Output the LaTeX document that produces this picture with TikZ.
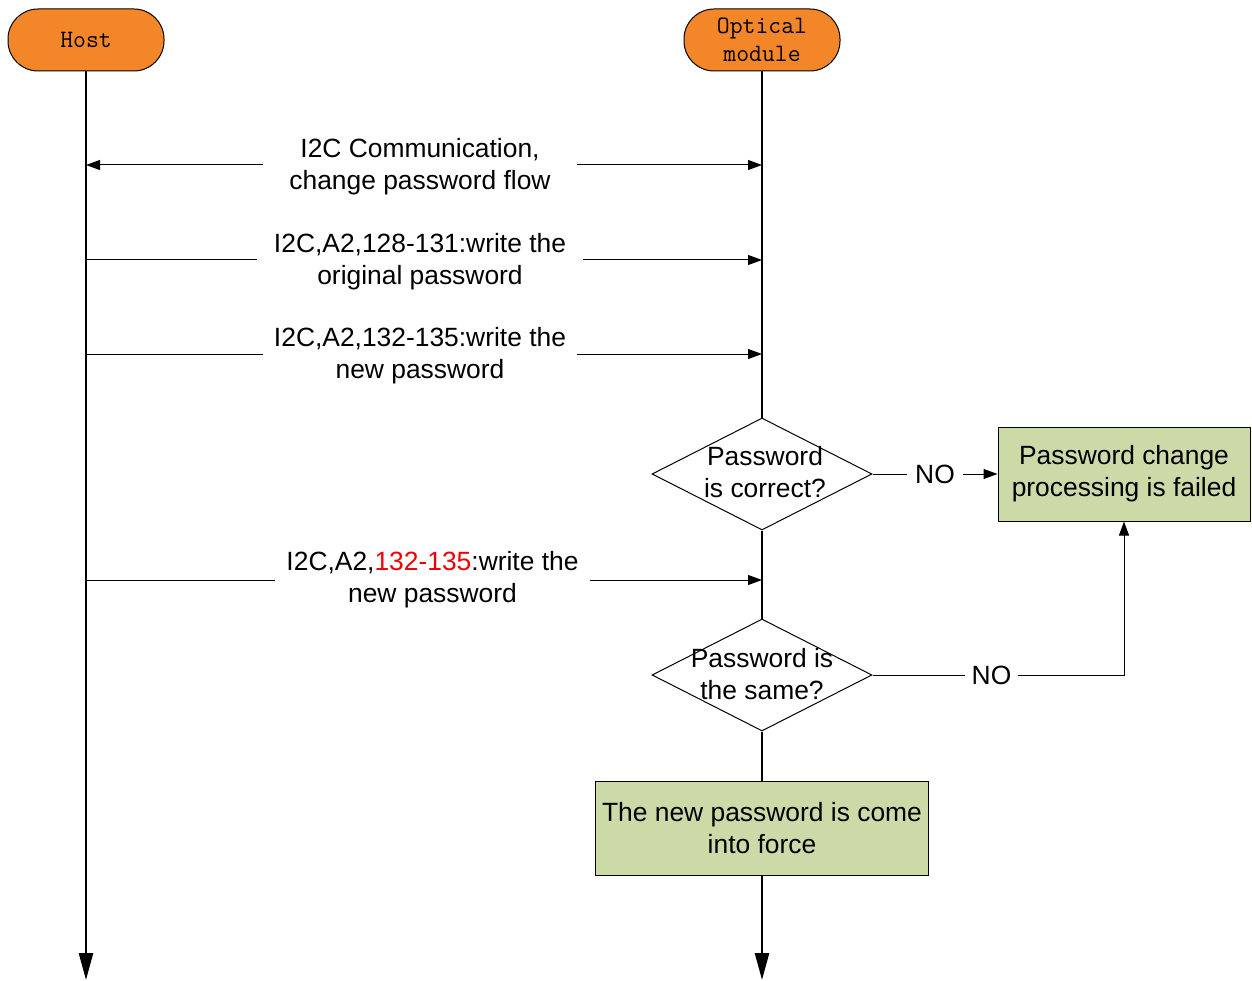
\documentclass[tikz,border=0pt]{standalone}
\usepackage{fontspec}
\setmainfont{Liberation Sans}
\usetikzlibrary{arrows.meta,shapes.geometric}
\definecolor{hdr}{RGB}{242,134,40}
\definecolor{boxg}{RGB}{204,218,168}
\definecolor{redtxt}{RGB}{240,0,0}
\tikzset{
  header/.style={draw=black,line width=1pt,fill=hdr,rounded corners=30pt,minimum width=156pt,minimum height=62pt,inner sep=0pt,align=center,font=\ttfamily\fontsize{25}{28}\selectfont},
  life/.style={line width=2.6pt,-{Triangle[length=27pt,width=14pt]}},
  lifeseg/.style={line width=2.6pt},
  msg/.style={inner sep=0pt,align=center,font=\fontsize{26.4}{32}\selectfont},
  conn/.style={line width=1pt},
  tip/.style={-{Triangle[length=14pt,width=10pt]}},
  decision/.style={draw=black,line width=1pt,fill=white,diamond,minimum width=220pt,minimum height=112pt,inner sep=0pt},
  result/.style={draw=black,line width=1pt,fill=boxg,inner sep=0pt,align=center,font=\fontsize{26.4}{32}\selectfont}
}
\begin{document}
\begin{tikzpicture}[x=1pt,y=-1pt]
\useasboundingbox (0,0) rectangle (1252,981);
% headers
\node[header] (host) at (86,40) {Host};
\node[header] (opt) at (762,40) {Optical\\module};
% lifeline ends
\coordinate (hostend) at (86,980);
\coordinate (optend) at (762,980);
% decisions and results
\node[decision] (d1) at (762,474) {};
\node[msg] (d1t) at (765,472) {Password\\is correct?};
\node[decision] (d2) at (762,675) {};
\node[msg] (d2t) at (762,674) {Password is\\the same?};
\node[result,minimum width=252pt,minimum height=94pt] (fail) at (1124,474) {Password change\\processing is failed};
\node[result,minimum width=333pt,minimum height=94pt] (ok) at (762,828) {The new password is come\\into force};
% lifelines
\draw[life] (host.south) -- (hostend);
\draw[lifeseg] (opt.south) -- (d1.north);
\draw[lifeseg] (d1.south) -- (d2.north);
\draw[lifeseg] (d2.south) -- (ok.north);
\draw[life] (ok.south) -- (optend);
% messages
\coordinate (h1) at (86,165); \coordinate (o1) at (762,165);
\node[msg,minimum width=314pt] (m1) at (420,166.5) {I2C Communication,\\change password flow};
\draw[conn,tip] (m1.west |- h1) -- (h1);
\draw[conn,tip] (m1.east |- o1) -- (o1);
\coordinate (h2) at (86,260); \coordinate (o2) at (762,260);
\node[msg,minimum width=326pt] (m2) at (420,261.5) {I2C,A2,128-131:write the\\original password};
\draw[conn] (h2) -- (m2.west |- h2);
\draw[conn,tip] (m2.east |- o2) -- (o2);
\coordinate (h3) at (86,354); \coordinate (o3) at (762,354);
\node[msg,minimum width=314pt] (m3) at (420,355.5) {I2C,A2,132-135:write the\\new password};
\draw[conn] (h3) -- (m3.west |- h3);
\draw[conn,tip] (m3.east |- o3) -- (o3);
\coordinate (h4) at (86,580); \coordinate (o4) at (762,580);
\node[msg,minimum width=315pt] (m4) at (432.5,579.5) {I2C,A2,\textcolor{redtxt}{132-135}:write the\\new password};
\draw[conn] (h4) -- (m4.west |- h4);
\draw[conn,tip] (m4.east |- o4) -- (o4);
% NO branches
\node[msg,minimum width=55pt] (no1) at (935,474) {NO};
\draw[conn] (d1.east) -- (no1.west);
\draw[conn,tip] (no1.east) -- (fail.west);
\node[msg,minimum width=53pt] (no2) at (991.5,675) {NO};
\draw[conn] (d2.east) -- (no2.west);
\draw[conn,tip] (no2.east) -| (fail.south);
\end{tikzpicture}
\end{document}
